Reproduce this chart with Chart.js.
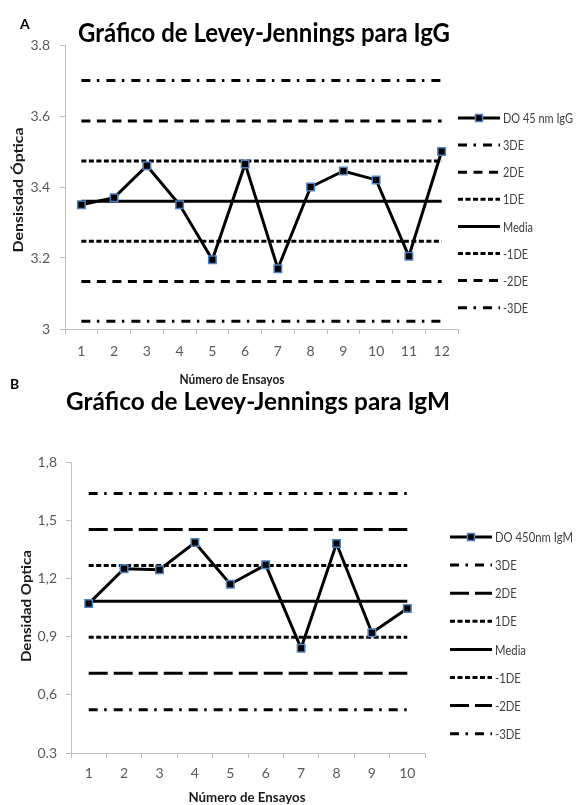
<!DOCTYPE html>
<html>
<head>
<meta charset="utf-8">
<script src="https://cdn.jsdelivr.net/npm/chart.js@4.4.1/dist/chart.umd.min.js"></script>
<style>
  body { margin: 0; background: #fff; width: 577px; height: 805px; position: relative; overflow: hidden; }
  canvas { position: absolute; left: 0; }
  #graphIgG { top: 0; }
  #graphIgM { top: 370px; }
</style>
</head>
<body>
<canvas id="graphIgG" width="577" height="392"></canvas>
<canvas id="graphIgM" width="577" height="435"></canvas>
<script>
// Datos IgG
const ensayosIgG = ['1', '2', '3', '4', '5', '6', '7', '8', '9', '10', '11', '12'];
const doIgG = [3.35, 3.37, 3.46, 3.35, 3.195, 3.465, 3.17, 3.40, 3.445, 3.42, 3.205, 3.50];
const limitesIgG = [3.70, 3.586, 3.473, 3.36, 3.247, 3.134, 3.022];
const ticksIgG = ['3', '3.2', '3.4', '3.6', '3.8'];

// Datos IgM
const ensayosIgM = ['1', '2', '3', '4', '5', '6', '7', '8', '9', '10'];
const doIgM = [1.07, 1.25, 1.245, 1.385, 1.17, 1.27, 0.84, 1.38, 0.92, 1.045];
const limitesIgM = [1.637, 1.452, 1.267, 1.082, 0.897, 0.711, 0.523];
const ticksIgM = ['0.3', '0,6', '0,9', '1,2', '1,5', '1,8'];

const nombresLimites = ['3DE', '2DE', '1DE', 'Media', '-1DE', '-2DE', '-3DE'];

const FUENTE = 'Lato, "Open Sans", sans-serif';

// texto comprimido en horizontal (imita Calibri)
function textoAncho(ctx, txt, x, y, w) {
  const sx = w / ctx.measureText(txt).width;
  ctx.save();
  ctx.translate(x, y);
  ctx.scale(sx, 1);
  ctx.fillText(txt, 0, 0);
  ctx.restore();
}

// dibuja titulos, letra del panel y leyenda
const textos = {
  id: 'textos',
  afterDraw(chart, args, o) {
    const ctx = chart.ctx;
    ctx.save();
    ctx.fillStyle = '#000';
    ctx.textBaseline = 'alphabetic';

    ctx.textAlign = 'left';
    ctx.font = 'bold 14px ' + FUENTE;
    ctx.fillText(o.letra, o.letraX, o.letraY);

    // titulo
    ctx.font = 'bold ' + o.tituloPx + 'px ' + FUENTE;
    ctx.textAlign = 'center';
    textoAncho(ctx, o.titulo, o.tituloX, o.tituloY, o.tituloW);

    // titulo eje Y
    ctx.save();
    ctx.translate(o.ejeYX, o.ejeYY);
    ctx.rotate(-Math.PI / 2);
    ctx.font = 'bold 14px ' + FUENTE;
    ctx.textBaseline = 'middle';
    ctx.fillStyle = '#1a1a1a';
    textoAncho(ctx, o.ejeY, 0, 0, o.ejeYW);
    ctx.restore();

    // titulo eje X
    ctx.font = 'bold 13px ' + FUENTE;
    ctx.textBaseline = 'middle';
    ctx.fillStyle = '#1a1a1a';
    textoAncho(ctx, o.ejeX, o.ejeXX, o.ejeXY, o.ejeXW);

    // leyenda
    ctx.textAlign = 'left';
    ctx.font = '13px ' + FUENTE;
    const sx = o.leyW / ctx.measureText(chart.data.datasets[0].label).width;
    chart.data.datasets.forEach((ds, i) => {
      const y = o.leyY + i * o.leyGap;
      ctx.beginPath();
      ctx.setLineDash(ds.borderDash || []);
      ctx.lineWidth = ds.borderWidth;
      ctx.strokeStyle = ds.borderColor;
      ctx.moveTo(o.leyX0, y);
      ctx.lineTo(o.leyX1, y);
      ctx.stroke();
      ctx.setLineDash([]);
      if (ds.pointRadius > 0) {
        const m = (o.leyX0 + o.leyX1) / 2;
        ctx.fillStyle = ds.pointBackgroundColor;
        ctx.fillRect(m - 3.5, y - 3.5, 7, 7);
        ctx.lineWidth = ds.pointBorderWidth;
        ctx.strokeStyle = ds.pointBorderColor;
        ctx.strokeRect(m - 3.5, y - 3.5, 7, 7);
      }
      ctx.fillStyle = '#404040';
      const w = ctx.measureText(ds.label).width * sx;
      textoAncho(ctx, ds.label, o.leyX1 + 3, y + 1, w);
    });
    ctx.restore();
  }
};

function graficoLJ(id, c) {
  const datasets = [{
    label: c.serieNombre,
    data: c.serie,
    borderColor: '#000',
    borderWidth: 3,
    pointStyle: 'rect',
    pointRadius: 5.3,
    pointBackgroundColor: '#000',
    pointBorderColor: '#4f81bd',
    pointBorderWidth: 1.5,
    tension: 0
  }];
  c.limites.forEach((v, i) => {
    datasets.push({
      label: nombresLimites[i],
      data: c.labels.map(() => v),
      borderColor: '#000',
      borderWidth: 3,
      borderDash: c.dashes[i],
      pointRadius: 0,
      tension: 0
    });
  });

  return new Chart(document.getElementById(id), {
    type: 'line',
    data: { labels: c.labels, datasets },
    options: {
      responsive: false,
      animation: false,
      devicePixelRatio: 1,
      layout: { autoPadding: false, padding: { top: c.area.top, right: c.area.right, left: 0, bottom: 0 } },
      plugins: {
        legend: { display: false },
        tooltip: { enabled: false },
        textos: c.textos
      },
      scales: {
        x: {
          type: 'category',
          offset: true,
          grid: { drawOnChartArea: false, tickLength: 5, color: '#bfbfbf', offset: true },
          border: { color: '#bfbfbf' },
          ticks: { color: '#595959', font: { family: FUENTE, size: 14 }, padding: c.padX, maxRotation: 0, autoSkip: false },
          afterFit(s) { s.height = c.area.xh; }
        },
        y: {
          min: c.min, max: c.max,
          grid: { drawOnChartArea: false, tickLength: 5, color: '#bfbfbf' },
          border: { color: '#bfbfbf' },
          ticks: {
            stepSize: c.step,
            color: '#595959',
            font: { family: FUENTE, size: 14 },
            padding: c.padY,
            callback: (v, i) => c.ticks[i]
          },
          afterFit(s) { s.width = c.area.left; }
        }
      }
    },
    plugins: [textos]
  });
}

document.addEventListener('DOMContentLoaded', () => {
  // Grafico A - IgG
  graficoLJ('graphIgG', {
    labels: ensayosIgG,
    serie: doIgG,
    serieNombre: 'DO 45 nm IgG',
    limites: limitesIgG,
    dashes: [[9, 6.5, 2.5, 7], [9, 6.5], [5, 2.5], [], [5, 2.5], [9, 6.5], [9, 6.5, 2.5, 7]],
    ticks: ticksIgG,
    min: 3, max: 3.8, step: 0.2,
    padX: 9, padY: 10,
    area: { top: 45, right: 119, left: 65, xh: 63 },
    textos: {
      letra: 'A', letraX: 20, letraY: 29,
      titulo: 'Gráfico de Levey-Jennings para IgG', tituloX: 264, tituloY: 42, tituloW: 372, tituloPx: 26,
      ejeY: 'Densisdad Óptica', ejeYX: 18, ejeYY: 190, ejeYW: 125,
      ejeX: 'Número de Ensayos', ejeXX: 232, ejeXY: 380, ejeXW: 105,
      leyX0: 458, leyX1: 500, leyY: 118, leyGap: 27.1, leyW: 70
    }
  });

  // Grafico B - IgM
  graficoLJ('graphIgM', {
    labels: ensayosIgM,
    serie: doIgM,
    serieNombre: 'DO 450nm IgM',
    limites: limitesIgM,
    dashes: [[9, 6.5, 2.5, 7], [19, 6], [5, 2.5], [], [5, 2.5], [19, 6], [9, 6.5, 2.5, 7]],
    ticks: ticksIgM,
    min: 0.3, max: 1.8, step: 0.3,
    padX: 7, padY: 9,
    area: { top: 92, right: 152, left: 71, xh: 52 },
    textos: {
      letra: 'B', letraX: 10, letraY: 19,
      titulo: 'Gráfico de Levey-Jennings para IgM', tituloX: 258, tituloY: 40, tituloW: 384, tituloPx: 25,
      ejeY: 'Densidad Optica', ejeYX: 26, ejeYY: 236, ejeYW: 112,
      ejeX: 'Número de Ensayos', ejeXX: 247, ejeXY: 428, ejeXW: 117,
      leyX0: 450, leyX1: 492, leyY: 167, leyGap: 28.1, leyW: 78
    }
  });
});
</script>
</body>
</html>
